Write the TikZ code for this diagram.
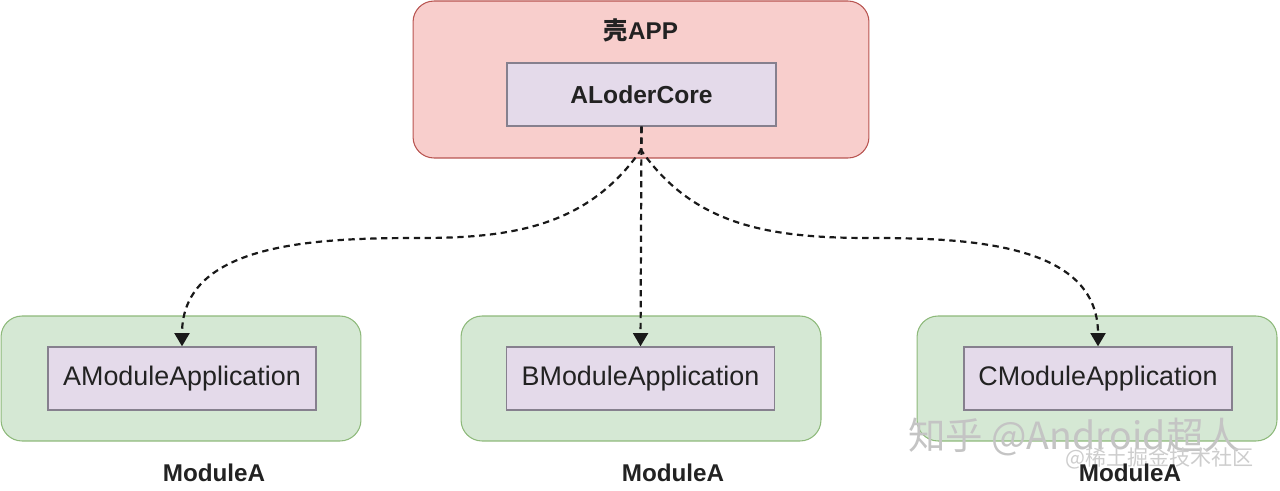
\documentclass[tikz,border=0pt]{standalone}
\usepackage{fontspec}
\setmainfont{Liberation Sans}
\newfontfamily\cjk{Noto Sans CJK SC}
\usetikzlibrary{arrows.meta}
\definecolor{redfill}{HTML}{F8CECC}
\definecolor{reddraw}{HTML}{B85450}
\definecolor{greenfill}{HTML}{D5E8D4}
\definecolor{greendraw}{HTML}{8DB97A}
\definecolor{purplefill}{HTML}{E4DAEA}
\definecolor{purpledraw}{HTML}{86808E}
\definecolor{txt}{HTML}{222222}
\definecolor{wm}{HTML}{C4C4C4}
\tikzset{
  appbox/.style={draw=reddraw, fill=redfill, line width=0.6pt, rounded corners=0.42cm,
    minimum width=9.12cm, minimum height=3.14cm, inner sep=0pt},
  modbox/.style={draw=greendraw, fill=greenfill, line width=0.6pt, rounded corners=0.42cm,
    minimum width=7.2cm, minimum height=2.5cm, inner sep=0pt},
  innerbox/.style={draw=purpledraw, fill=purplefill, line width=0.8pt,
    minimum width=5.36cm, minimum height=1.26cm, inner sep=0pt, text=txt},
  dep/.style={draw=black!90, line width=1.25pt, dash pattern=on 3.6pt off 2.6pt,
    -{Triangle[width=8.5pt,length=7.5pt]}},
  caption/.style={text=txt, font=\bfseries\fontsize{13.8pt}{16pt}\selectfont, inner sep=0pt},
}
\begin{document}
\begin{tikzpicture}[x=0.02cm,y=-0.02cm]
\useasboundingbox (0,0) rectangle (1280,490);
% boxes
\node[appbox] (app) at (641,79.5) {};
\node[caption, anchor=base] (apptitle) at (641,39) {{\cjk 壳}APP};
\node[innerbox, minimum width=5.38cm, font=\bfseries\fontsize{14pt}{16pt}\selectfont] (core) at (641.5,94.5) {ALoderCore};

\node[modbox] (amod) at (181,378.5) {};
\node[modbox] (bmod) at (641,378.5) {};
\node[modbox] (cmod) at (1097,378.5) {};

\node[innerbox, font=\fontsize{15.3pt}{17pt}\selectfont] (ainner) at (182,378.5) {AModuleApplication};
\node[innerbox, font=\fontsize{15.3pt}{17pt}\selectfont] (binner) at (640.5,378.5) {BModuleApplication};
\node[innerbox, font=\fontsize{15.3pt}{17pt}\selectfont] (cinner) at (1098,378.5) {CModuleApplication};

% connectors
\coordinate (split) at (641,150);
\coordinate (lmid) at (420,238);
\coordinate (rmid) at (870,238);
\draw[dep] (core.south) -- (binner.north);
\draw[dep] (core.south) -- (split) .. controls (588,226) and (513,238) .. (lmid)
  .. controls (318,238) and (182,242) .. (ainner.north);
\draw[dep] (core.south) -- (split) .. controls (694,226) and (770,238) .. (rmid)
  .. controls (964,238) and (1098,242) .. (cinner.north);

% watermark
\node[anchor=west, text=wm, inner sep=0pt, font=\cjk\fontsize{21.3pt}{24pt}\selectfont] (wm1) at (908,437) {知乎 @Android超人};
\node[anchor=west, text=wm!85, inner sep=0pt, font=\cjk\fontsize{12pt}{14pt}\selectfont] (wm2) at (1065,458) {@稀土掘金技术社区};

% module captions
\node[caption, anchor=base] (alabel) at (214,481) {ModuleA};
\node[caption, anchor=base] (blabel) at (673,481) {ModuleA};
\node[caption, anchor=base] (clabel) at (1130,481) {ModuleA};
\end{tikzpicture}
\end{document}
